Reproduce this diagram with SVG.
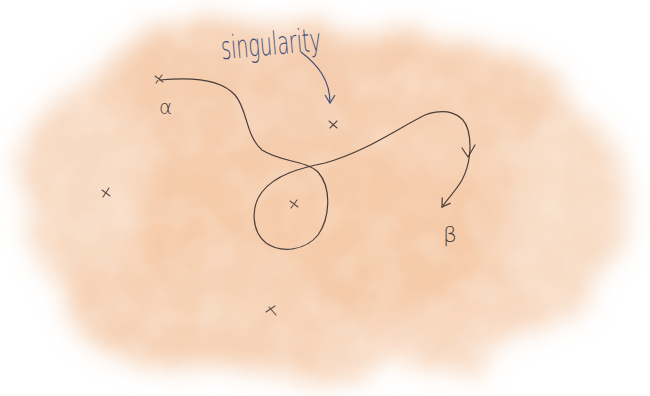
<svg xmlns="http://www.w3.org/2000/svg" width="650" height="396" viewBox="0 0 650 396">
<defs>
<filter id="wash" x="-20%" y="-20%" width="140%" height="140%">
<feTurbulence type="fractalNoise" baseFrequency="0.012" numOctaves="3" seed="4" result="n"/>
<feDisplacementMap in="SourceGraphic" in2="n" scale="60" result="d"/>
<feGaussianBlur in="d" stdDeviation="12"/>
</filter>
<filter id="mottle" x="0" y="0" width="100%" height="100%">
<feTurbulence type="fractalNoise" baseFrequency="0.03" numOctaves="3" seed="7" result="g"/>
<feColorMatrix in="g" type="matrix" values="0 0 0 0 1  0 0 0 0 1  0 0 0 0 1  0 0 0 1.2 -0.45"/>
<feGaussianBlur stdDeviation="2"/>
</filter>
<marker id="v" viewBox="-10 -6 12 12" markerWidth="12" markerHeight="12" markerUnits="userSpaceOnUse" orient="auto" refX="0" refY="0">
<path d="M-8,-5 L0,0 L-8,5" fill="none" stroke="#4a3d3a" stroke-width="1.2"/>
</marker>
<marker id="vb" viewBox="-10 -6 12 12" markerWidth="12" markerHeight="12" markerUnits="userSpaceOnUse" orient="auto" refX="0" refY="0">
<path d="M-8,-5 L0,0 L-8,5" fill="none" stroke="#44507a" stroke-width="1.2"/>
</marker>
</defs>
<style>
.ink{fill:none;stroke:#4a3d3a;stroke-width:1.2;stroke-linecap:round;stroke-linejoin:round}
.x{fill:none;stroke:#5a4a45;stroke-width:1.1;stroke-linecap:round}
.lbl{font-family:"DejaVu Sans",sans-serif;fill:#4a3d3a;font-weight:200}
</style>
<rect width="650" height="396" fill="#ffffff"/>
<g filter="url(#wash)">
<ellipse cx="320" cy="200" rx="300" ry="175" fill="#f8d8bf"/>
<ellipse cx="300" cy="190" rx="230" ry="140" fill="#f5cba9"/>
<ellipse cx="300" cy="90" rx="200" ry="70" fill="#f5cdae"/>
<ellipse cx="460" cy="110" rx="110" ry="70" fill="#f6d0b2"/>
<ellipse cx="200" cy="310" rx="130" ry="55" fill="#f6d2b5"/>
<ellipse cx="570" cy="220" rx="70" ry="100" fill="#f8dcc5"/>
<ellipse cx="80" cy="180" rx="60" ry="100" fill="#f8dac2"/>
</g>
<rect width="650" height="396" filter="url(#mottle)" opacity="0.35"/>

<g id="crosses">
<path class="x" d="M155,76 L163,82 M162,75 L156,83"/>
<path class="x" d="M329,121 L337,128 M337,121 L330,128"/>
<path class="x" d="M102,190 L110,196 M109,188 L103,197"/>
<path class="x" d="M290,201 L298,207 M297,200 L291,208"/>
<path class="x" d="M266,312 L275,306 M269,307 L276,315"/>
</g>

<g id="labels">
<text class="lbl" x="221" y="55" font-size="32" textLength="100" lengthAdjust="spacingAndGlyphs" style="fill:#44507a" transform="rotate(-5 270 45)">singularity</text>
<text class="lbl" x="159" y="114" font-size="20">α</text>
<text class="lbl" x="443" y="242" font-size="22">β</text>
</g>

<g id="connectors">
<path d="M301,52 C318,65 330,80 330,103" fill="none" stroke="#44507a" stroke-width="1.2" marker-end="url(#vb)"/>
<path class="ink" d="M160,80 C190,77 220,78 235,95 C248,110 245,135 262,150 C280,162 305,160 318,172 C332,188 330,218 318,235 C306,250 282,254 266,243 C252,232 250,208 262,192 C275,175 300,168 325,163 C365,152 395,130 425,115 C445,108 463,112 468,130 C472,145 470,165 462,180 C455,192 448,198 442,207" marker-end="url(#v)"/>
<path class="ink" d="M462,148 L468,157 L475,145"/>
</g>
</svg>
